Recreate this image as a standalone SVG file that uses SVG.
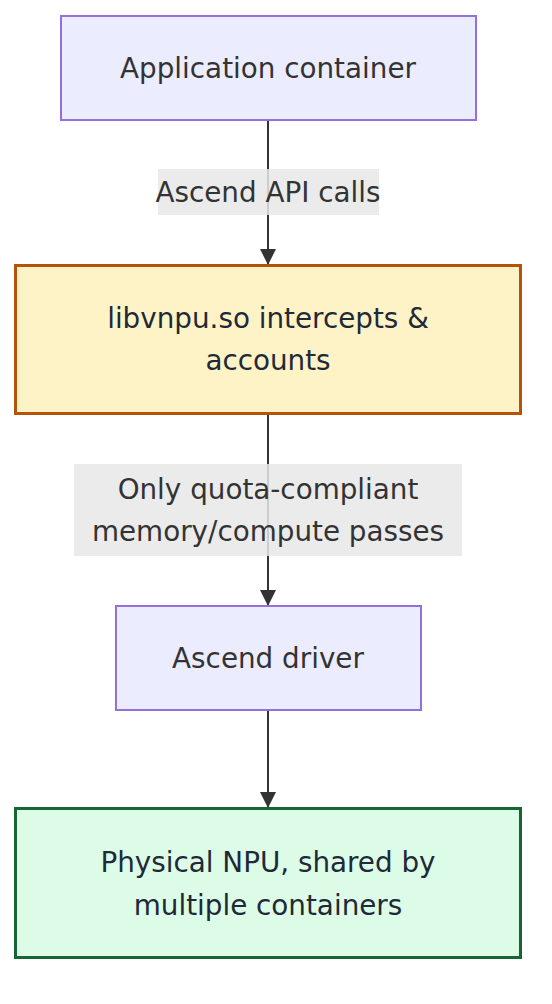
<svg xmlns="http://www.w3.org/2000/svg" width="552" height="1004" viewBox="0 0 552 1004">
<style>
.t{font-family:"Trebuchet MS","DejaVu Sans",Verdana,sans-serif;font-size:27.8px;text-anchor:middle;dominant-baseline:central}
.def rect{fill:#ECECFF;stroke:#9370DB;stroke-width:2}
.def text{fill:#333333}
.lab rect{fill:#e8e8e8;fill-opacity:0.85}
.lab text{fill:#333333}
.edge{stroke:#333333;stroke-width:2;fill:none}
</style>
<defs>
<marker id="arr" viewBox="0 0 10 10" refX="10" refY="5" markerWidth="16" markerHeight="16" markerUnits="userSpaceOnUse" orient="auto">
<path d="M0,0 L10,5 L0,10 z" fill="#333333"/>
</marker>
</defs>
<rect width="552" height="1004" fill="#ffffff"/>
<g id="connectors">
<path class="edge" d="M268,120 L268,265" marker-end="url(#arr)"/>
<path class="edge" d="M268,414 L268,606" marker-end="url(#arr)"/>
<path class="edge" d="M268,710 L268,808" marker-end="url(#arr)"/>
<g class="lab" id="label1">
<rect x="158" y="169" width="221" height="46"/>
<text class="t" x="268" y="192">Ascend API calls</text>
</g>
<g class="lab" id="label2">
<rect x="74" y="464" width="388" height="92"/>
<text class="t" x="268" y="489">Only quota-compliant</text>
<text class="t" x="268" y="531">memory/compute passes</text>
</g>
</g>
<g id="app" class="def">
<rect x="61" y="16" width="415" height="104"/>
<text class="t" x="268" y="68">Application container</text>
</g>
<g id="libvnpu">
<rect x="15.5" y="265.5" width="505" height="148" fill="#fef3c7" stroke="#b45309" stroke-width="3"/>
<text class="t" x="268" y="318" fill="#1f2937">libvnpu.so intercepts &amp;</text>
<text class="t" x="268" y="360" fill="#1f2937">accounts</text>
</g>
<g id="driver" class="def">
<rect x="116" y="606" width="305" height="104"/>
<text class="t" x="268" y="658">Ascend driver</text>
</g>
<g id="npu">
<rect x="15.5" y="808.5" width="505" height="149" fill="#dcfce7" stroke="#166534" stroke-width="3"/>
<text class="t" x="268" y="862" fill="#1f2937">Physical NPU, shared by</text>
<text class="t" x="268" y="905" fill="#1f2937">multiple containers</text>
</g>
</svg>
